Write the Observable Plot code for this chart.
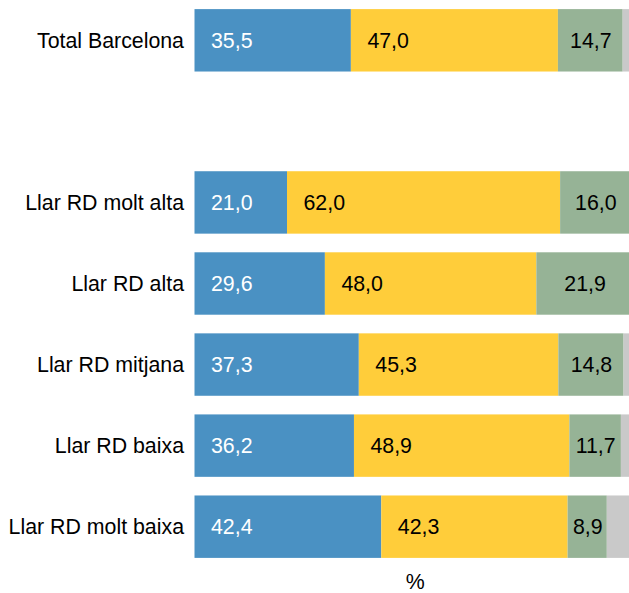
<!DOCTYPE html>
<html><head><meta charset="utf-8">
<script src="https://cdn.jsdelivr.net/npm/d3@7"></script>
<script src="https://cdn.jsdelivr.net/npm/@observablehq/plot@0.6"></script>
<style>html,body{margin:0;padding:0;background:#fff;overflow:hidden}</style>
</head><body><div id="chart"></div>
<script>
const rows = ["Total Barcelona", "", "Llar RD molt alta", "Llar RD alta", "Llar RD mitjana", "Llar RD baixa", "Llar RD molt baixa"];
const groups = ["Total Barcelona", "Llar RD molt alta", "Llar RD alta", "Llar RD mitjana", "Llar RD baixa", "Llar RD molt baixa"];
const categories = ["c1", "c2", "c3", "c4"];
const colors = ["#4a91c3", "#ffcd3a", "#96b396", "#c9c9c9"];
const blue   = [35.5, 21.0, 29.6, 37.3, 36.2, 42.4];
const yellow = [47.0, 62.0, 48.0, 45.3, 48.9, 42.3];
const green  = [14.7, 16.0, 21.9, 14.8, 11.7, 8.9];
const gray   = [2.8, 1.0, 0.5, 2.6, 3.2, 6.4];
const series = [blue, yellow, green, gray];

const data = [];
categories.forEach((c, i) => groups.forEach((g, j) => data.push({row: g, cat: c, value: series[i][j]})));
const fmt = v => v.toFixed(1).replace(".", ",");
const labelFor = k => d => d.cat === categories[k] ? fmt(d.value) : "";
const FS = 21.33;

const chart = Plot.plot({
  width: 629, height: 593,
  marginLeft: 194.5, marginRight: -6, marginTop: 1, marginBottom: 27,
  style: {fontFamily: "'Liberation Sans', Arial, sans-serif", fontSize: FS + "px", color: "#000", background: "#fff"},
  x: {domain: [0, 100], axis: null},
  y: {domain: rows, paddingInner: 0.23, paddingOuter: 0.1, round: false, axis: null},
  color: {domain: categories, range: colors},
  marks: [
    Plot.barX(data, Plot.stackX({x: "value", y: "row", fill: "cat"})),
    Plot.text(data, Plot.stackX1({x: "value", y: "row", z: "cat", text: labelFor(0), fill: "white", textAnchor: "start", dx: 16, fontSize: FS})),
    Plot.text(data, Plot.stackX1({x: "value", y: "row", z: "cat", text: labelFor(1), fill: "black", textAnchor: "start", dx: 16, fontSize: FS})),
    Plot.text(data, Plot.stackX({x: "value", y: "row", z: "cat", text: labelFor(2), fill: "black", fontSize: FS})),
    Plot.axisY({tickSize: 0, tickPadding: 11, fontSize: FS, label: null, fill: "black"}),
    Plot.text(["%"], {frameAnchor: "bottom", dy: 15.5, lineAnchor: "middle", fontSize: FS, fill: "black"})
  ]
});
document.getElementById("chart").appendChild(chart);
</script>
</body></html>
